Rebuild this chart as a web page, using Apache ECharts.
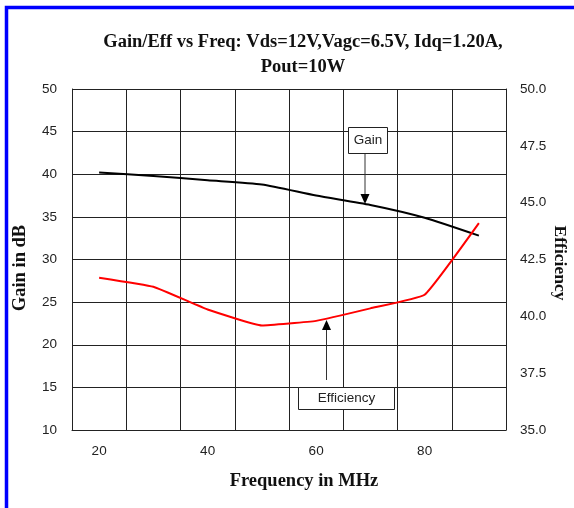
<!DOCTYPE html>
<html>
<head>
<meta charset="utf-8">
<script src="https://cdn.jsdelivr.net/npm/echarts@6/dist/echarts.min.js"></script>
<style>
  html, body { margin: 0; padding: 0; background: #fff; }
  #main { width: 574px; height: 508px; }
</style>
</head>
<body>
<div id="main"></div>
<script>
// frequency in MHz
var freqs = ['20', '30', '40', '50', '60', '70', '80', '90'];
// gain in dB (left axis)
var gain = [40.2, 39.8, 39.3, 38.8, 37.5, 36.4, 34.9, 32.8];
// efficiency (right axis)
var efficiency = [41.7, 41.3, 40.3, 39.6, 39.8, 40.35, 40.95, 44.1];

var serif = '"Liberation Serif", "Times New Roman", serif';
var sans = '"Liberation Sans", Arial, sans-serif';

var chart = echarts.init(document.getElementById('main'));

var option = {
  animation: false,
  backgroundColor: '#fff',
  title: {
    text: 'Gain/Eff vs Freq: Vds=12V,Vagc=6.5V, Idq=1.20A,\nPout=10W',
    left: 298,
    top: 24,
    textAlign: 'center',
    textStyle: { fontFamily: serif, fontWeight: 'bold', fontSize: 18.5, color: '#111', lineHeight: 25.5 }
  },
  grid: { left: 72, top: 89, right: 68, bottom: 78, containLabel: false, outerBoundsMode: 'none' },
  xAxis: {
    type: 'category',
    data: freqs,
    boundaryGap: true,
    axisLine: { lineStyle: { color: '#222', width: 1 } },
    axisTick: { show: false },
    axisLabel: { interval: 1, fontFamily: sans, fontSize: 13.5, color: '#222', margin: 14 },
    splitLine: { show: true, interval: 0, lineStyle: { color: '#222', width: 1 } }
  },
  yAxis: [
    {
      type: 'value',
      min: 10, max: 50, interval: 5,
      axisLine: { show: true, lineStyle: { color: '#222', width: 1 } },
      axisTick: { show: false },
      axisLabel: { fontFamily: sans, fontSize: 13.5, color: '#222', margin: 15 },
      splitLine: { show: true, lineStyle: { color: '#222', width: 1 } }
    },
    {
      type: 'value',
      min: 35, max: 50, interval: 2.5,
      axisLine: { show: true, lineStyle: { color: '#222', width: 1 } },
      axisTick: { show: false },
      axisLabel: {
        fontFamily: sans, fontSize: 13.5, color: '#222', margin: 14,
        formatter: function (v) { return v.toFixed(1); }
      },
      splitLine: { show: false }
    }
  ],
  series: [
    {
      name: 'Gain',
      type: 'line',
      yAxisIndex: 0,
      data: gain,
      symbol: 'none',
      smooth: 0.2,
      lineStyle: { color: '#000', width: 2 }
    },
    {
      name: 'Efficiency',
      type: 'line',
      yAxisIndex: 1,
      data: efficiency,
      symbol: 'none',
      smooth: 0.1,
      lineStyle: { color: '#ff0000', width: 2 }
    }
  ],
  graphic: [
    // blue frame
    { type: 'rect', shape: { x: 6.5, y: 7.5, width: 700, height: 700 },
      style: { fill: 'none', stroke: '#0000ff', lineWidth: 3.5 }, z: 100 },
    // axis titles
    { type: 'text', x: 304, y: 481, style: { text: 'Frequency in MHz', fontFamily: serif, fontWeight: 'bold',
      fontSize: 18.5, fill: '#111', align: 'center', verticalAlign: 'middle' } },
    { type: 'text', x: 20, y: 268, rotation: Math.PI / 2, style: { text: 'Gain in dB', fontFamily: serif,
      fontWeight: 'bold', fontSize: 18.5, fill: '#111', align: 'center', verticalAlign: 'middle' } },
    { type: 'text', x: 560, y: 263, rotation: -Math.PI / 2, style: { text: 'Efficiency', fontFamily: serif,
      fontWeight: 'bold', fontSize: 17.5, fill: '#111', align: 'center', verticalAlign: 'middle' } },
    // Gain label and arrow
    { type: 'rect', shape: { x: 348.5, y: 127.5, width: 39, height: 26 },
      style: { fill: '#fff', stroke: '#222', lineWidth: 1 }, z: 50 },
    { type: 'text', x: 368, y: 140, style: { text: 'Gain', fontFamily: sans, fontSize: 13.5,
      fill: '#222', align: 'center', verticalAlign: 'middle' }, z: 51 },
    { type: 'line', shape: { x1: 365, y1: 154, x2: 365, y2: 196 },
      style: { stroke: '#333', lineWidth: 1 }, z: 50 },
    { type: 'polygon', shape: { points: [[360.5, 194], [369.5, 194], [365, 204]] },
      style: { fill: '#000' }, z: 50 },
    // Efficiency label and arrow
    { type: 'rect', shape: { x: 298.5, y: 387.5, width: 96, height: 22 },
      style: { fill: '#fff', stroke: '#222', lineWidth: 1 }, z: 50 },
    { type: 'text', x: 346.5, y: 398.5, style: { text: 'Efficiency', fontFamily: sans, fontSize: 13.5,
      fill: '#222', align: 'center', verticalAlign: 'middle' }, z: 51 },
    { type: 'line', shape: { x1: 326.5, y1: 380, x2: 326.5, y2: 328 },
      style: { stroke: '#333', lineWidth: 1 }, z: 50 },
    { type: 'polygon', shape: { points: [[322, 330], [331, 330], [326.5, 320]] },
      style: { fill: '#000' }, z: 50 }
  ]
};

chart.setOption(option);
</script>
</body>
</html>
